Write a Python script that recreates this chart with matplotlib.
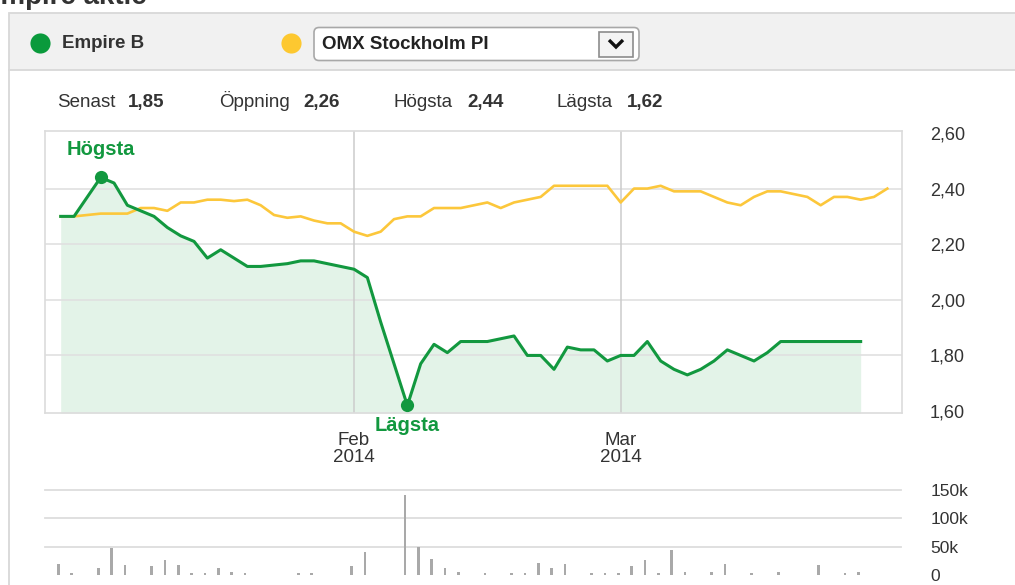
import matplotlib
matplotlib.use("Agg")
import matplotlib.pyplot as plt
from matplotlib.patches import Rectangle, FancyBboxPatch
import numpy as np

# ---------------- data ----------------
empire = [2.30, 2.30, 2.37, 2.44, 2.42, 2.34, 2.32, 2.30, 2.26, 2.23,
          2.21, 2.15, 2.18, 2.15, 2.12, 2.12, 2.125, 2.13, 2.14, 2.14,
          2.13, 2.12, 2.11, 2.08, 1.92, 1.77, 1.62, 1.77, 1.84, 1.81,
          1.85, 1.85, 1.85, 1.86, 1.87, 1.80, 1.80, 1.75, 1.83, 1.82,
          1.82, 1.78, 1.80, 1.80, 1.85, 1.78, 1.75, 1.73, 1.75, 1.78,
          1.82, 1.80, 1.78, 1.81, 1.85, 1.85, 1.85, 1.85, 1.85, 1.85, 1.85]
omx = [2.30, 2.30, 2.305, 2.31, 2.31, 2.31, 2.33, 2.33, 2.32, 2.35,
       2.35, 2.36, 2.36, 2.355, 2.36, 2.34, 2.305, 2.295, 2.30, 2.285,
       2.275, 2.275, 2.245, 2.23, 2.245, 2.29, 2.30, 2.30, 2.33, 2.33,
       2.33, 2.34, 2.35, 2.33, 2.35, 2.36, 2.37, 2.41, 2.41, 2.41,
       2.41, 2.41, 2.35, 2.40, 2.40, 2.41, 2.39, 2.39, 2.39, 2.37,
       2.35, 2.34, 2.37, 2.39, 2.39, 2.38, 2.37, 2.34, 2.37, 2.37,
       2.36, 2.37, 2.40]
volume_k = [20, 3, 0, 13, 47, 17, 0, 16, 27, 17,
            3, 4, 13, 5, 3, 0, 0, 0, 3, 3,
            0, 0, 16, 41, 0, 0, 142, 50, 28, 12,
            6, 0, 3, 0, 3, 3, 21, 13, 19, 0,
            3, 4, 3, 16, 27, 3, 45, 6, 0, 5,
            19, 0, 3, 0, 5, 0, 0, 17, 0, 3, 5]
month_ticks = [22, 42]
month_labels = ["Feb\n2014", "Mar\n2014"]
price_ticks = [1.6, 1.8, 2.0, 2.2, 2.4, 2.6]
vol_ticks = [0, 50, 100, 150]
vol_labels = ["0", "50k", "100k", "150k"]
stat_names = ["Senast", "Öppning", "Högsta", "Lägsta"]
stat_values = ["1,85", "2,26", "2,44", "1,62"]
series_names = ["Empire B", "OMX Stockholm PI"]

# ---------------- style ----------------
plt.rcParams['font.family'] = ['Liberation Sans', 'DejaVu Sans']
GREEN = '#12983f'
GREEN_DOT = '#0a9a3c'
FILL = '#e3f3e8'
YELLOW = '#fcc73b'
TXT = '#333333'
GRID = '#e0e0e0'

W, H = 1015, 585
fig = plt.figure(figsize=(W / 100, H / 100), dpi=100)
fig.patch.set_facecolor('white')


def rect(l, t, r, b):
    return [l / W, 1 - b / H, (r - l) / W, (b - t) / H]


# background / decoration layer in pixel coordinates
bg = fig.add_axes([0, 0, 1, 1], zorder=-5)
bg.set_xlim(0, W)
bg.set_ylim(H, 0)
bg.axis('off')

bg.text(147, 4, "Empire aktie", ha='right', va='baseline', fontsize=20,
        weight='bold', color=TXT, clip_on=False)
bg.add_patch(Rectangle((9.5, 12.5), W, 57.5, facecolor='#f1f1f1',
                       edgecolor='#d8d8d8', lw=1.3))
bg.plot([9.5, 9.5], [70, H], color='#d8d8d8', lw=1.3)

bg.plot([40], [43], 'o', ms=14.5, color=GREEN_DOT, mec='none')
bg.text(62, 48.5, series_names[0], ha='left', va='baseline', fontsize=13.5,
        weight='bold', color=TXT)
bg.plot([291.5], [43], 'o', ms=14.5, color='#fdc830', mec='none')
bg.add_patch(FancyBboxPatch((314, 27.5), 325, 33, boxstyle='round,pad=0,rounding_size=5',
                            facecolor='white', edgecolor='#a8a8a8', lw=1.2))
bg.text(322, 49, series_names[1], ha='left', va='baseline', fontsize=13.5,
        weight='bold', color='#222222')
bg.add_patch(Rectangle((599, 31.5), 34, 25, facecolor='#f4f4f4',
                       edgecolor='#8c8c8c', lw=1.2))
bg.plot([609, 616, 623], [40, 47, 40], color='#111111', lw=2.4,
        solid_capstyle='butt', solid_joinstyle='miter')

stat_x = [(57, 128), (219, 303), (394, 467), (557, 627)]
for (xn, xv), n, v in zip(stat_x, stat_names, stat_values):
    bg.text(xn, 107, n, ha='left', va='baseline', fontsize=13.5, color=TXT)
    bg.text(xv, 107, v, ha='left', va='baseline', fontsize=13.5, color=TXT,
            weight='bold')

# ---------------- price chart ----------------
ax = fig.add_axes(rect(45, 131, 902, 413))
ylo, yhi = 1.593, 2.607
ax.set_ylim(ylo, yhi)
ax.set_xlim(-1.1775, 63.1)
xg = np.arange(len(empire))
xo = np.arange(len(omx))

ax.fill_between(xg, empire, ylo, color=FILL, lw=0, zorder=1)
for yv in price_ticks[1:-1]:
    ax.axhline(yv, color=GRID, lw=1.2, zorder=1.5)
for xv in month_ticks:
    ax.axvline(xv, color='#cccccc', lw=1.1, zorder=1.5)
ax.plot(xo, omx, color=YELLOW, lw=1.9, zorder=3, solid_joinstyle='round')
ax.plot(xg, empire, color=GREEN, lw=2.2, zorder=4, solid_joinstyle='round')

imax = int(np.argmax(empire))
imin = int(np.argmin(empire))
ax.plot([imax, imin], [empire[imax], empire[imin]], 'o', ms=9.5,
        color=GREEN, mec='none', zorder=5)
ax.annotate("Högsta", (imax, empire[imax]), xytext=(0, 28),
            textcoords='offset pixels', ha='center', va='center',
            fontsize=14.5, weight='bold', color=GREEN, zorder=6)
ax.annotate("Lägsta", (imin, empire[imin]), xytext=(0, -20),
            textcoords='offset pixels', ha='center', va='center',
            fontsize=14.5, weight='bold', color=GREEN, zorder=6,
            annotation_clip=False)

for s in ax.spines.values():
    s.set_color('#dcdcdc')
    s.set_linewidth(1.2)
ax.yaxis.tick_right()
ax.set_yticks(price_ticks)
ax.set_yticklabels([f"{v:.2f}".replace('.', ',') for v in price_ticks])
ax.tick_params(axis='y', length=0, pad=20, labelsize=13, labelcolor=TXT)
ax.set_xticks(month_ticks)
ax.set_xticklabels(month_labels)
ax.tick_params(axis='x', length=0, pad=14, labelsize=13.5, labelcolor=TXT)
plt.setp(ax.get_xticklabels(), linespacing=1.0)

# ---------------- volume chart ----------------
av = fig.add_axes(rect(45, 490, 901, 575))
av.set_xlim(-1.0, 63.2)
av.set_ylim(0, 150)
for s in av.spines.values():
    s.set_visible(False)
for yv in vol_ticks[1:]:
    av.axhline(yv, color='#dddddd', lw=1.3, zorder=1, clip_on=False)
av.bar(np.arange(len(volume_k)), volume_k, width=0.2, color='#a9a9a9',
       zorder=2)
av.yaxis.tick_right()
av.set_yticks(vol_ticks)
av.set_yticklabels(vol_labels)
av.tick_params(axis='y', length=0, pad=21, labelsize=12.5, labelcolor=TXT)
av.set_xticks([])

fig.savefig('out.png', dpi=100)
